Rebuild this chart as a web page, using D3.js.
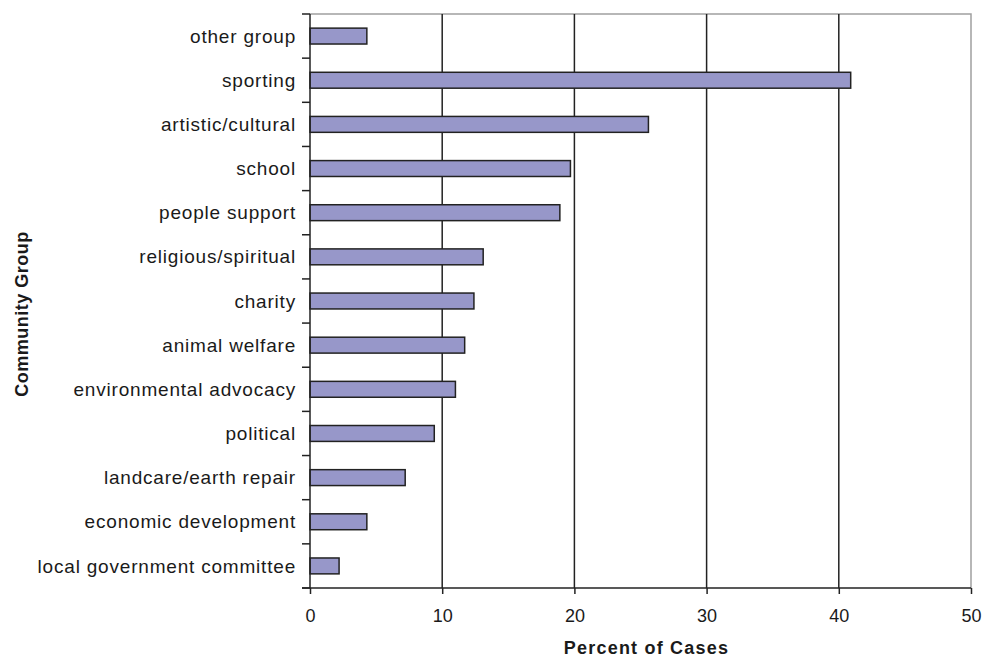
<!DOCTYPE html>
<html>
<head>
<meta charset="utf-8">
<script src="https://cdn.jsdelivr.net/npm/d3@7"></script>
<style>
  body { margin: 0; background: #fff; }
  svg { display: block; }
  text { font-family: "Liberation Sans", Arial, sans-serif; fill: #1a1a1a; }
</style>
</head>
<body>
<svg id="chart" width="989" height="657"></svg>
<script>
// Community group participation, percent of cases
const categories = [
  "other group", "sporting", "artistic/cultural", "school", "people support",
  "religious/spiritual", "charity", "animal welfare", "environmental advocacy",
  "political", "landcare/earth repair", "economic development",
  "local government committee"
];
const values = [4.3, 40.9, 25.6, 19.7, 18.9, 13.1, 12.4, 11.7, 11.0, 9.4, 7.2, 4.3, 2.2];
const xTicks = [0, 10, 20, 30, 40, 50];

(function draw() {
  const svg = d3.select("#chart");
  const plotL = 310, plotR = 971, plotT = 14, plotB = 588;

  const x = d3.scaleLinear().domain([0, 50]).range([plotL, plotR]);
  const y = d3.scaleBand().domain(categories).range([plotT, plotB])
    .paddingInner(0.64).paddingOuter(0.32);

  // plot frame: light grey top/right edges
  svg.append("path")
    .attr("d", `M${plotL},${plotT}H${plotR}V${plotB}`)
    .attr("fill", "none").attr("stroke", "#a0a0a0").attr("stroke-width", 1.5);

  // vertical gridlines
  svg.append("g").selectAll("line")
    .data(xTicks.filter(t => t > 0 && t < 50))
    .join("line")
    .attr("x1", d => x(d)).attr("x2", d => x(d))
    .attr("y1", plotT).attr("y2", plotB)
    .attr("stroke", "#222").attr("stroke-width", 1.5);

  // bars
  svg.append("g").selectAll("rect")
    .data(values)
    .join("rect")
    .attr("x", x(0))
    .attr("y", (d, i) => y(categories[i]))
    .attr("width", d => x(d) - x(0))
    .attr("height", y.bandwidth())
    .attr("fill", "#9797c9")
    .attr("stroke", "#222")
    .attr("stroke-width", 1.5);

  // x axis
  const xAxis = d3.axisBottom(x).tickValues(xTicks).tickSize(6).tickPadding(15);
  const gx = svg.append("g").attr("transform", `translate(0,${plotB})`).call(xAxis);
  gx.select(".domain").attr("d", `M${plotL - 8},0H${plotR}`).attr("stroke", "#222").attr("stroke-width", 1.5);
  gx.selectAll(".tick line").attr("stroke", "#222").attr("stroke-width", 1.5);
  gx.selectAll(".tick text").attr("font-size", 18).style("fill", "#1a1a1a")
    .attr("font-family", "Liberation Sans, Arial, sans-serif");

  // y axis: ticks sit on category boundaries
  const gy = svg.append("g").attr("transform", `translate(${plotL},0)`);
  gy.append("line").attr("x1", 0).attr("x2", 0).attr("y1", plotT).attr("y2", plotB)
    .attr("stroke", "#222").attr("stroke-width", 1.5);
  const step = y.step();
  gy.selectAll("line.tk")
    .data(d3.range(categories.length + 1))
    .join("line").attr("class", "tk")
    .attr("x1", -8).attr("x2", 0)
    .attr("y1", i => plotT + i * step).attr("y2", i => plotT + i * step)
    .attr("stroke", "#222").attr("stroke-width", 1.5);
  gy.selectAll("text")
    .data(categories)
    .join("text")
    .attr("x", -14)
    .attr("y", d => y(d) + y.bandwidth() / 2)
    .attr("dy", "0.35em")
    .attr("text-anchor", "end")
    .attr("font-size", 19)
    .attr("letter-spacing", 0.8)
    .text(d => d);

  // axis titles
  svg.append("text")
    .attr("x", (plotL + plotR) / 2 + 6).attr("y", 654)
    .attr("text-anchor", "middle").attr("font-size", 18).attr("font-weight", "bold")
    .attr("letter-spacing", 1.2)
    .text("Percent of Cases");
  svg.append("text")
    .attr("transform", `translate(28,${(plotT + plotB) / 2 + 13}) rotate(-90)`)
    .attr("text-anchor", "middle").attr("font-size", 18).attr("font-weight", "bold")
    .attr("letter-spacing", 0.5)
    .text("Community Group");
})();
</script>
</body>
</html>
